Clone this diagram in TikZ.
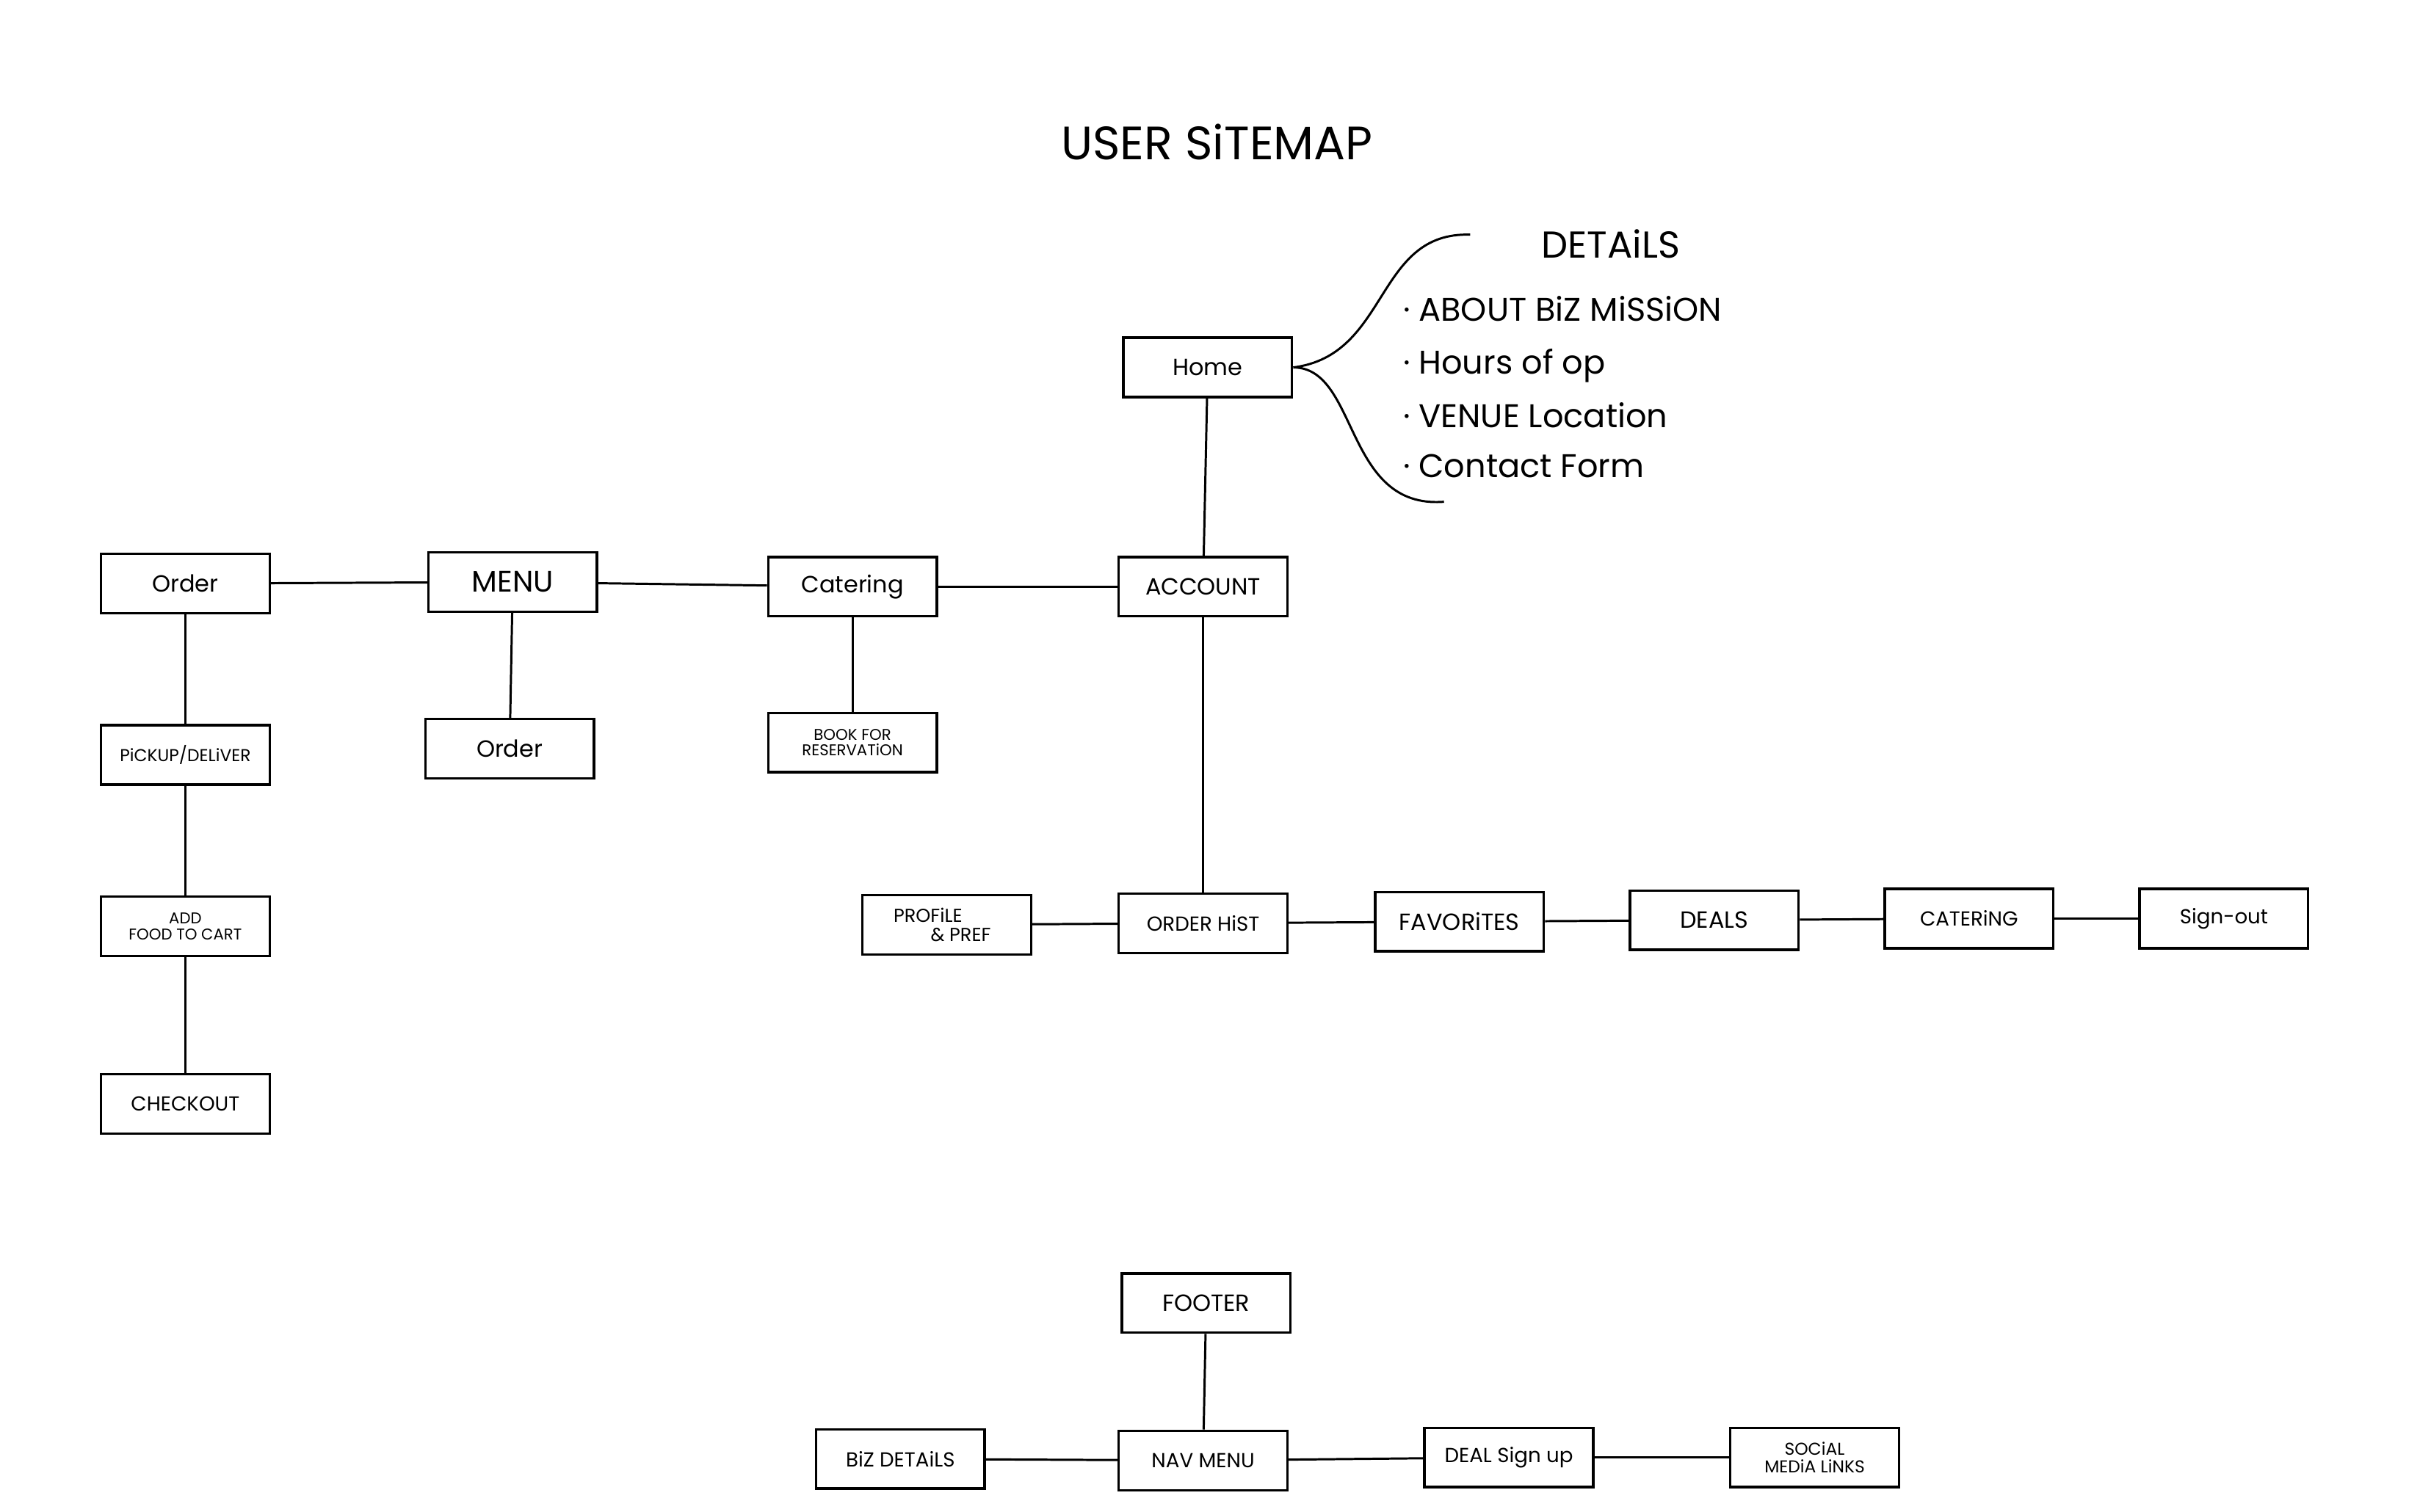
\documentclass[tikz,border=0pt]{standalone}
\usepackage{fontspec}
\setmainfont{Poppins}
\begin{document}
\begin{tikzpicture}[x=0.989pt,y=-0.989pt,
  bx/.style={draw,line width=1.6pt,minimum width=108pt,minimum height=38pt,inner sep=1pt,font=\fontsize{15}{16}\selectfont,align=center},
  sm/.style={bx,font=\fontsize{10}{10}\selectfont},
  ln/.style={line width=1.4pt}]
\useasboundingbox[fill=white] (0,0) rectangle (1567,979);
\node[font=\fontsize{30}{32}\selectfont] (title) at (788,92) {USER SiTEMAP};
\node[bx] (home) at (782,238) {Home};
\node[bx] (order) at (120,378) {Order};
\node[bx,font=\fontsize{19}{20}\selectfont] (menu) at (332,377) {MENU};
\node[bx] (cat) at (552,380) {Catering};
\node[bx] (acc) at (779,380) {ACCOUNT};
\node[bx] (order2) at (330,485) {Order};
\node[sm] (book) at (552,481) {BOOK FOR\\RESERVATiON};
\node[sm,font=\fontsize{11}{11}\selectfont] (pick) at (120,489) {PiCKUP/DELiVER};
\node[sm] (add) at (120,600) {ADD\\FOOD TO CART};
\node[bx,font=\fontsize{13}{14}\selectfont] (check) at (120,715) {CHECKOUT};
\node[sm,font=\fontsize{12}{12}\selectfont] (prof) at (613,599) {\hspace*{-2em}PROFiLE\\\hspace*{1.5em}\& PREF};
\node[bx,font=\fontsize{13}{14}\selectfont] (hist) at (779,598) {ORDER HiST};
\node[bx] (fav) at (945,597) {FAVORiTES};
\node[bx] (deals) at (1110,596) {DEALS};
\node[bx,font=\fontsize{13}{14}\selectfont] (cat2) at (1275,595) {CATERiNG};
\node[bx,font=\fontsize{13}{14}\selectfont] (sign) at (1440,595) {Sign-out};
\node[bx] (foot) at (781,844) {FOOTER};
\node[bx,font=\fontsize{13}{14}\selectfont] (nav) at (779,946) {NAV MENU};
\node[bx,font=\fontsize{13}{14}\selectfont] (biz) at (583,945) {BiZ DETAiLS};
\node[bx,font=\fontsize{13}{14}\selectfont] (dsu) at (977,944) {DEAL Sign up};
\node[sm,font=\fontsize{11}{11}\selectfont] (soc) at (1175,944) {SOCiAL\\MEDiA LiNKS};
\draw[ln] (order)--(menu); \draw[ln] (menu)--(cat); \draw[ln] (cat)--(acc);
\draw[ln] (home)--(acc); \draw[ln] (acc)--(hist);
\draw[ln] (menu)--(order2); \draw[ln] (cat)--(book);
\draw[ln] (order)--(pick); \draw[ln] (pick)--(add); \draw[ln] (add)--(check);
\draw[ln] (prof)--(hist); \draw[ln] (hist)--(fav); \draw[ln] (fav)--(deals);
\draw[ln] (deals)--(cat2); \draw[ln] (cat2)--(sign);
\draw[ln] (foot)--(nav); \draw[ln] (biz)--(nav); \draw[ln] (nav)--(dsu); \draw[ln] (dsu)--(soc);
\coordinate (bt) at (952,152); \coordinate (bb) at (935,325);
\draw[ln] (bt) .. controls (890,150) and (900,230) .. (home.east) .. controls (880,238) and (870,330) .. (bb);
\node[font=\fontsize{24}{26}\selectfont] (det) at (1043,158) {DETAiLS};
\node[anchor=west,font=\fontsize{21}{22}\selectfont] (b1) at (905,200) {· ABOUT BiZ MiSSiON};
\node[anchor=west,font=\fontsize{21}{22}\selectfont] (b2) at (905,237) {· Hours of op};
\node[anchor=west,font=\fontsize{21}{22}\selectfont] (b3) at (905,269) {· VENUE Location};
\node[anchor=west,font=\fontsize{21}{22}\selectfont] (b4) at (905,302) {· Contact Form};
\end{tikzpicture}
\end{document}
